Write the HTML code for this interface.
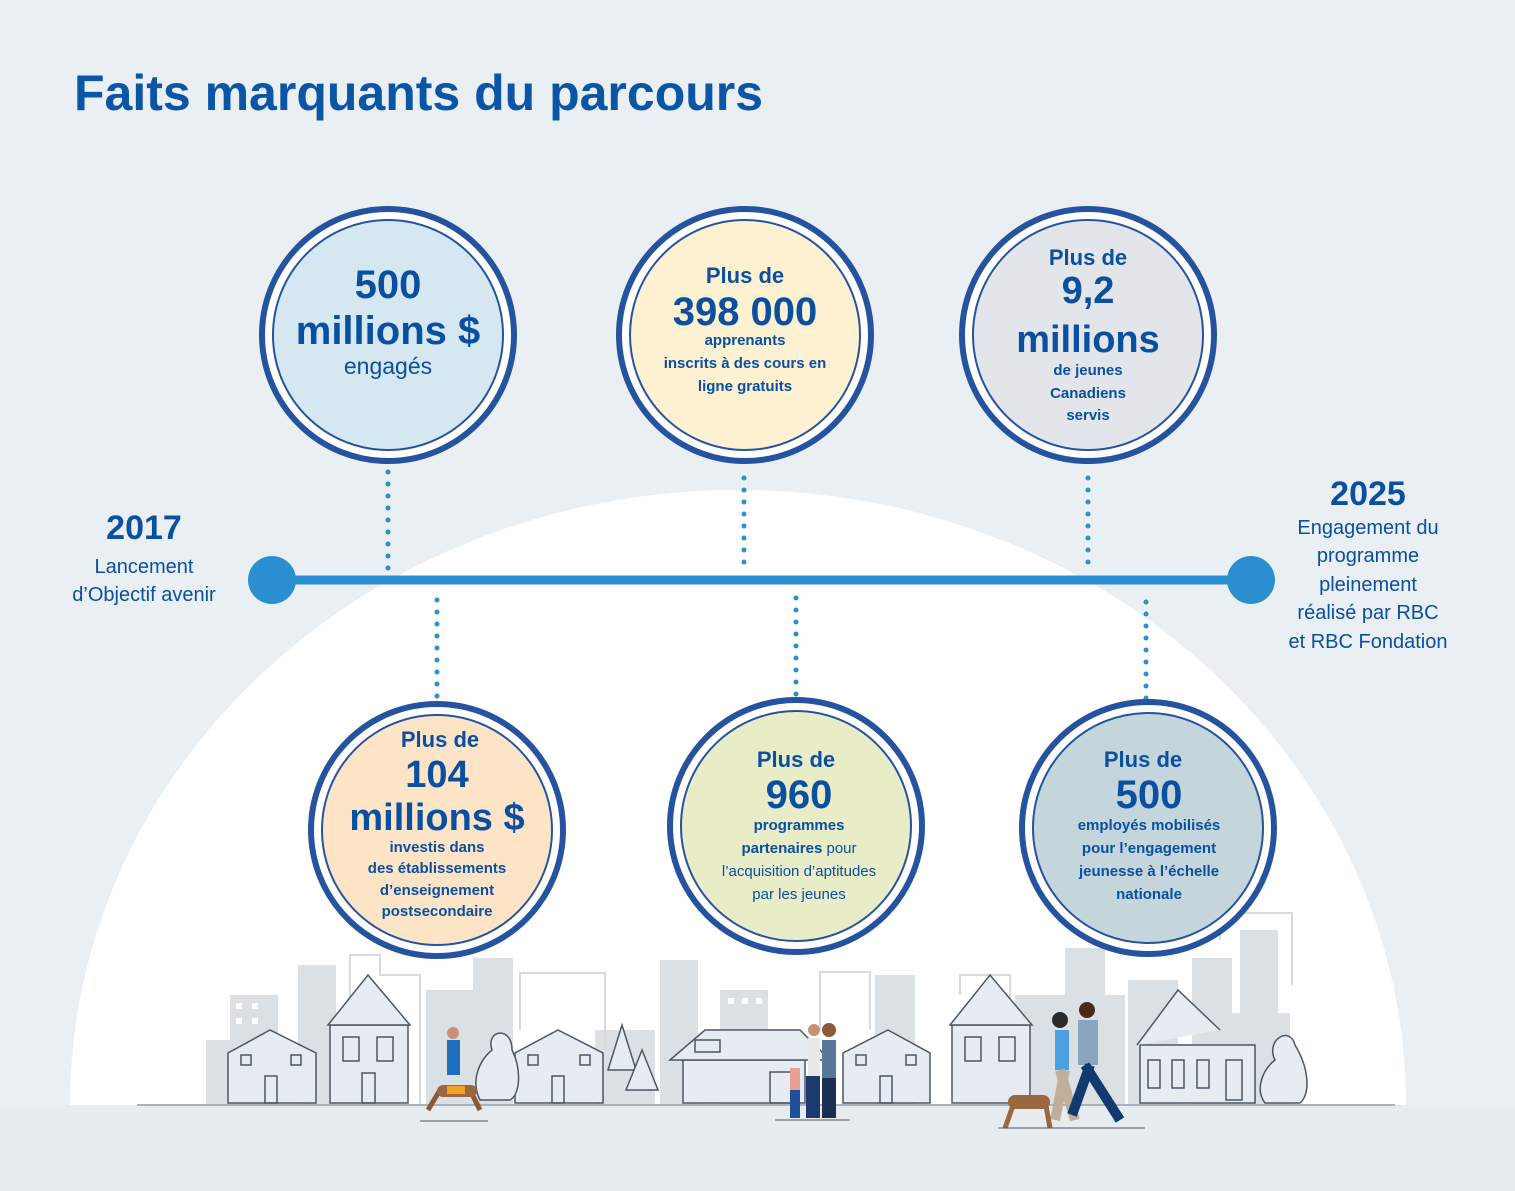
<!DOCTYPE html>
<html><head><meta charset="utf-8">
<style>
html,body{margin:0;padding:0}
body{width:1515px;height:1191px;overflow:hidden;background:#e9eff3;font-family:"Liberation Sans",sans-serif}
svg{display:block}
text{font-family:"Liberation Sans",sans-serif;fill:#0a4fa0}
</style></head><body>
<svg width="1515" height="1191" viewBox="0 0 1515 1191" xmlns="http://www.w3.org/2000/svg">
<rect width="1515" height="1191" fill="#e9eff3"/>
<!-- dome -->
<path d="M70 1105 A668 615 0 0 1 1406 1105 Z" fill="#ffffff"/>
<rect x="0" y="1105" width="1515" height="86" fill="#e6ecf0"/>
<text x="74" y="110" font-size="50" font-weight="bold" fill="#0a55a5" style="fill:#0a55a5">Faits marquants du parcours</text>

<!-- city background -->
<g fill="#dbe0e5">
<rect x="230" y="995" width="48" height="110"/>
<rect x="298" y="965" width="38" height="140"/>
<rect x="206" y="1040" width="30" height="65"/>
<rect x="473" y="958" width="40" height="147"/>
<rect x="426" y="990" width="60" height="115"/>
<rect x="660" y="960" width="38" height="145"/>
<rect x="720" y="990" width="48" height="115"/>
<rect x="595" y="1030" width="60" height="75"/>
<rect x="875" y="975" width="40" height="130"/>
<rect x="1065" y="948" width="40" height="157"/>
<rect x="1128" y="980" width="50" height="125"/>
<rect x="1192" y="958" width="40" height="147"/>
<rect x="1240" y="930" width="38" height="175"/>
<rect x="1015" y="995" width="110" height="110"/>
<rect x="1230" y="1013" width="60" height="92"/>
</g>
<g fill="none" stroke="#d6dbe0" stroke-width="2">
<path d="M350 1020 V955 H380 V975 H420 V1105"/>
<path d="M520 1030 V973 H605 V1050"/>
<path d="M820 1030 V972 H870 V1030"/>
<path d="M1220 940 V913 H1292 V985"/>
<path d="M960 995 V975 H1010 V1000"/>
</g>
<g fill="#fff"><rect x="236" y="1003" width="6" height="6"/><rect x="252" y="1003" width="6" height="6"/><rect x="236" y="1018" width="6" height="6"/><rect x="252" y="1018" width="6" height="6"/><rect x="728" y="998" width="6" height="6"/><rect x="742" y="998" width="6" height="6"/><rect x="756" y="998" width="6" height="6"/></g>

<!-- houses -->
<g fill="#e6ecf1" stroke="#4a5766" stroke-width="1.5">
<path d="M228 1103 V1053 L270 1030 L316 1053 V1103 Z"/>
<rect x="330" y="1025" width="78" height="78"/><path d="M328 1025 L368 975 L410 1025 Z"/>
<path d="M515 1103 V1053 L558 1030 L603 1053 V1103 Z"/>
<path d="M683 1103 V1060 H805 V1103 Z"/><path d="M670 1060 L705 1030 H800 L830 1060 Z"/>
<path d="M843 1103 V1053 L888 1030 L930 1053 V1103 Z"/>
<rect x="952" y="1025" width="78" height="78"/><path d="M950 1025 L990 975 L1032 1025 Z"/>
<rect x="1140" y="1045" width="115" height="58"/><path d="M1137 1045 L1178 990 L1220 1030"/>
<path d="M1265 1103 C1255 1090 1262 1070 1275 1060 C1265 1040 1290 1025 1295 1045 C1310 1070 1310 1095 1300 1103 Z"/>
<path d="M480 1100 C470 1080 480 1060 492 1050 C485 1030 512 1025 512 1050 C522 1070 520 1095 510 1100 Z"/>
<path d="M608 1070 L622 1025 L636 1070 Z"/><path d="M626 1090 L642 1050 L658 1090 Z"/>
</g>
<g fill="none" stroke="#4a5766" stroke-width="1.5">
<rect x="241" y="1055" width="10" height="10"/><rect x="291" y="1055" width="10" height="10"/><rect x="265" y="1076" width="12" height="27"/>
<rect x="343" y="1037" width="16" height="24"/><rect x="377" y="1037" width="16" height="24"/><rect x="362" y="1073" width="13" height="30"/>
<rect x="528" y="1055" width="10" height="10"/><rect x="580" y="1055" width="10" height="10"/><rect x="552" y="1076" width="12" height="27"/>
<rect x="695" y="1040" width="25" height="12"/><rect x="770" y="1072" width="25" height="31"/>
<rect x="856" y="1055" width="10" height="10"/><rect x="906" y="1055" width="10" height="10"/><rect x="880" y="1076" width="12" height="27"/>
<rect x="965" y="1037" width="16" height="24"/><rect x="999" y="1037" width="16" height="24"/>
<rect x="1148" y="1060" width="12" height="28"/><rect x="1172" y="1060" width="12" height="28"/><rect x="1197" y="1060" width="12" height="28"/><rect x="1226" y="1060" width="16" height="40"/>
</g>
<line x1="137" y1="1105" x2="1395" y2="1105" stroke="#a9b3bd" stroke-width="2"/>

<!-- people -->
<g>
<rect x="447" y="1040" width="13" height="35" fill="#1f6fc0"/><circle cx="453" cy="1033" r="6" fill="#c99172"/>
<path d="M428 1110 L440 1090 H470 L480 1110" stroke="#8b5a35" stroke-width="5" fill="none"/><rect x="437" y="1085" width="40" height="12" rx="6" fill="#9a6840"/><rect x="447" y="1086" width="18" height="8" fill="#f4a020"/>
<rect x="808" y="1038" width="12" height="40" fill="#e8e8e8"/><rect x="806" y="1076" width="14" height="42" fill="#1b3b70"/><circle cx="814" cy="1030" r="6" fill="#c99172"/>
<rect x="822" y="1040" width="14" height="40" fill="#557799"/><rect x="822" y="1078" width="14" height="40" fill="#1b2f55"/><circle cx="829" cy="1030" r="7" fill="#8a5a3a"/>
<rect x="790" y="1068" width="10" height="22" fill="#e8a090"/><rect x="790" y="1090" width="10" height="28" fill="#1f4f99"/>
<rect x="1055" y="1030" width="14" height="40" fill="#4aa0e0"/><path d="M1060 1070 L1075 1120 M1065 1070 L1055 1120" stroke="#bfae9a" stroke-width="10"/><circle cx="1060" cy="1020" r="8" fill="#2a2a2a"/>
<rect x="1078" y="1020" width="20" height="45" fill="#8aa5bd"/><path d="M1085 1065 L1120 1120 M1090 1065 L1072 1115" stroke="#123a70" stroke-width="10"/><circle cx="1087" cy="1010" r="8" fill="#4a2a1a"/>
<path d="M1005 1128 L1015 1100 H1045 L1050 1128" stroke="#9a6840" stroke-width="5" fill="none"/><rect x="1008" y="1095" width="42" height="14" rx="7" fill="#9a6840"/>
<line x1="998" y1="1128" x2="1145" y2="1128" stroke="#556" stroke-width="1"/>
<line x1="420" y1="1121" x2="488" y2="1121" stroke="#556" stroke-width="1"/>
<line x1="775" y1="1120" x2="850" y2="1120" stroke="#556" stroke-width="1"/>
</g>

<!-- timeline -->
<g stroke="#2a8fd0" stroke-width="5" stroke-dasharray="0 12" stroke-linecap="round" fill="none">
<line x1="388" y1="472" x2="388" y2="570"/>
<line x1="744" y1="478" x2="744" y2="565"/>
<line x1="1088" y1="478" x2="1088" y2="565"/>
<line x1="437" y1="600" x2="437" y2="700"/>
<line x1="796" y1="598" x2="796" y2="700"/>
<line x1="1146" y1="602" x2="1146" y2="700"/>
</g>
<line x1="272" y1="580" x2="1250" y2="580" stroke="#2a8fd0" stroke-width="9"/>
<circle cx="272" cy="580" r="24" fill="#2a8fd0"/>
<circle cx="1251" cy="580" r="24" fill="#2a8fd0"/>

<g text-anchor="middle">
<text x="144" y="539" font-size="34" font-weight="bold">2017</text>
<text x="144" y="573" font-size="20">Lancement</text>
<text x="144" y="601" font-size="20">d’Objectif avenir</text>
<text x="1368" y="505" font-size="34" font-weight="bold">2025</text>
<text x="1368" y="534" font-size="20">Engagement du</text>
<text x="1368" y="562" font-size="20">programme</text>
<text x="1368" y="591" font-size="20">pleinement</text>
<text x="1368" y="619" font-size="20">réalisé par RBC</text>
<text x="1368" y="648" font-size="20">et RBC Fondation</text>
</g>

<!-- circles -->
<g stroke="#2553a0">
<circle cx="388" cy="335" r="126" fill="#fff" stroke-width="6"/><circle cx="388" cy="335" r="115" fill="#d5e8f2" stroke-width="2"/>
<circle cx="745" cy="335" r="126" fill="#fff" stroke-width="6"/><circle cx="745" cy="335" r="115" fill="#fdf1d2" stroke-width="2"/>
<circle cx="1088" cy="335" r="126" fill="#fff" stroke-width="6"/><circle cx="1088" cy="335" r="115" fill="#e2e6ea" stroke-width="2"/>
<circle cx="437" cy="830" r="126" fill="#fff" stroke-width="6"/><circle cx="437" cy="830" r="115" fill="#fde4c7" stroke-width="2"/>
<circle cx="796" cy="826" r="126" fill="#fff" stroke-width="6"/><circle cx="796" cy="826" r="115" fill="#e8edc8" stroke-width="2"/>
<circle cx="1148" cy="828" r="126" fill="#fff" stroke-width="6"/><circle cx="1148" cy="828" r="115" fill="#c4d6dc" stroke-width="2"/>
</g>

<g text-anchor="middle" font-weight="bold">
<text x="388" y="298" font-size="40">500</text>
<text x="388" y="344" font-size="40">millions $</text>
<text x="388" y="374" font-size="23" font-weight="normal">engagés</text>

<text x="745" y="283" font-size="22">Plus de</text>
<text x="745" y="325" font-size="40">398 000</text>
<text x="745" y="345" font-size="15">apprenants</text>
<text x="745" y="368" font-size="15">inscrits à des cours en</text>
<text x="745" y="391" font-size="15">ligne gratuits</text>

<text x="1088" y="265" font-size="22">Plus de</text>
<text x="1088" y="303" font-size="38">9,2</text>
<text x="1088" y="352" font-size="38">millions</text>
<text x="1088" y="375" font-size="15">de jeunes</text>
<text x="1088" y="398" font-size="15">Canadiens</text>
<text x="1088" y="420" font-size="15">servis</text>

<text x="440" y="747" font-size="22">Plus de</text>
<text x="437" y="787" font-size="38">104</text>
<text x="437" y="830" font-size="38">millions $</text>
<text x="437" y="852" font-size="15">investis dans</text>
<text x="437" y="873" font-size="15">des établissements</text>
<text x="437" y="895" font-size="15">d’enseignement</text>
<text x="437" y="916" font-size="15">postsecondaire</text>

<text x="796" y="767" font-size="22">Plus de</text>
<text x="799" y="808" font-size="40">960</text>
<text x="799" y="830" font-size="15">programmes</text>
<text x="799" y="853" font-size="15">partenaires <tspan font-weight="normal">pour</tspan></text>
<text x="799" y="876" font-size="15" font-weight="normal">l’acquisition d’aptitudes</text>
<text x="799" y="899" font-size="15" font-weight="normal">par les jeunes</text>

<text x="1143" y="767" font-size="22">Plus de</text>
<text x="1149" y="808" font-size="40">500</text>
<text x="1149" y="830" font-size="15">employés mobilisés</text>
<text x="1149" y="853" font-size="15">pour l’engagement</text>
<text x="1149" y="876" font-size="15">jeunesse à l’échelle</text>
<text x="1149" y="899" font-size="15">nationale</text>
</g>
</svg>
</body></html>
